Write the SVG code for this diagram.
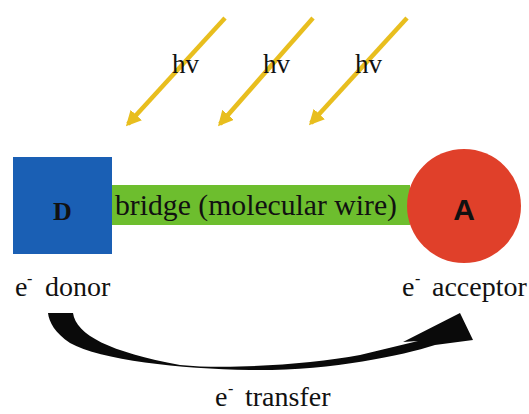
<svg xmlns="http://www.w3.org/2000/svg" width="529" height="414" viewBox="0 0 529 414">
  <defs>
    <style>
      .light { stroke: #E8BE1E; stroke-width: 4.5; fill: none; }
    </style>
    <marker id="gold" viewBox="0 0 10 10" refX="8" refY="5" markerWidth="3.4" markerHeight="3.4" orient="auto" markerUnits="strokeWidth">
      <path d="M0,0 L10,5 L0,10 Z" fill="#E8BE1E"/>
    </marker>
  </defs>
  <rect width="529" height="414" fill="#ffffff"/>

  <g id="light-arrows">
    <line class="light" x1="225" y1="18" x2="128" y2="124" marker-end="url(#gold)"/>
    <line class="light" x1="313" y1="18" x2="220" y2="124" marker-end="url(#gold)"/>
    <line class="light" x1="407" y1="18" x2="311" y2="123" marker-end="url(#gold)"/>
  </g>
  <g id="hv-labels" font-family="Liberation Serif, Times New Roman, serif" fill="#111" font-size="27">
    <text x="172" y="73">hv</text>
    <text x="263" y="73">hv</text>
    <text x="355" y="73">hv</text>
  </g>

  <g id="bridge">
    <rect x="110" y="185" width="300" height="40" fill="#6DBE2E"/>
    <text x="115" y="215" font-family="Liberation Serif, Times New Roman, serif" fill="#111" font-size="30" textLength="282" lengthAdjust="spacingAndGlyphs">bridge (molecular wire)</text>
  </g>
  <g id="donor">
    <rect x="13" y="157" width="99" height="97" fill="#1A5FB4"/>
    <text x="53" y="220" font-family="Liberation Serif, Times New Roman, serif" fill="#111" font-size="26" font-weight="bold">D</text>
  </g>
  <g id="acceptor">
    <circle cx="464" cy="206" r="57" fill="#E0402A"/>
    <text x="464" y="220" font-family="Liberation Sans, Arial, sans-serif" fill="#111" font-size="30" font-weight="bold" text-anchor="middle">A</text>
  </g>

  <g id="donor-label" font-family="Liberation Serif, Times New Roman, serif" fill="#111">
    <text x="15" y="296" font-size="28">e<tspan x="27" dy="-12" font-size="16">-</tspan><tspan x="45" dy="12">donor</tspan></text>
  </g>
  <g id="acceptor-label" font-family="Liberation Serif, Times New Roman, serif" fill="#111">
    <text x="402" y="296" font-size="28">e<tspan x="415" dy="-12" font-size="16">-</tspan><tspan x="432" dy="12">acceptor</tspan></text>
  </g>

  <g id="connectors">
    <path d="M48,313 L73,313 C76,335 110,352 180,365 C230,370 310,364 360,355 L418,341 L403,342 L460,313 L473,340 L435,345 C400,356 330,371 250,370 C180,369 100,360 70,343 C55,333 49,322 48,313 Z" fill="#0a0a0a"/>
  </g>
  <g id="transfer-label" font-family="Liberation Serif, Times New Roman, serif" fill="#111">
    <text x="215" y="406" font-size="28">e<tspan x="228" dy="-12" font-size="16">-</tspan><tspan x="245" dy="12">transfer</tspan></text>
  </g>
</svg>
